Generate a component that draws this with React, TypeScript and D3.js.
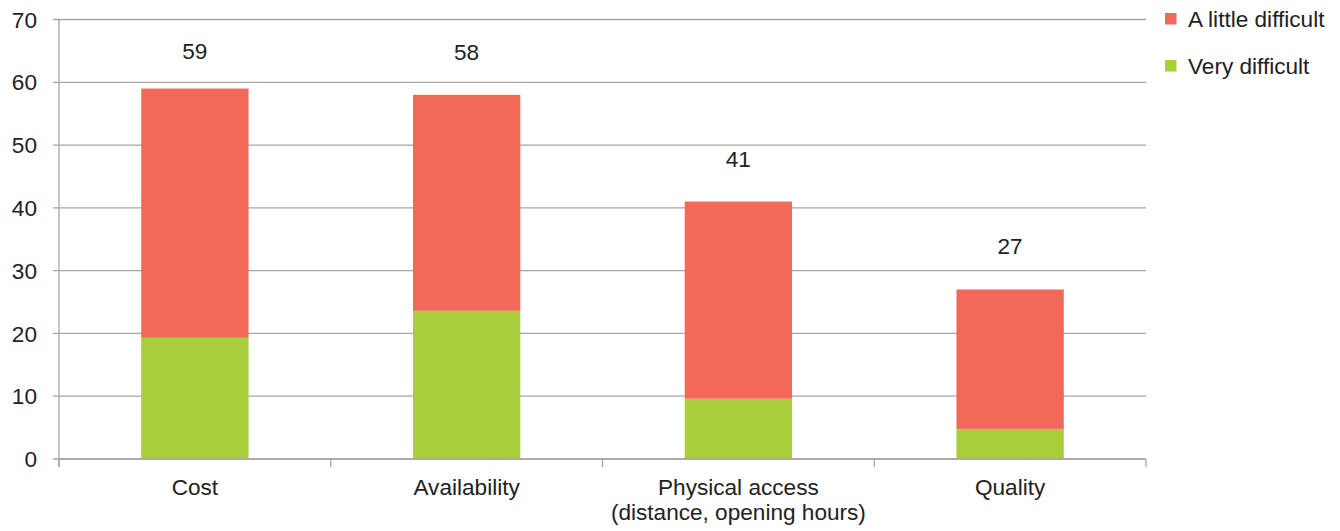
import React from "react";
import * as d3 from "d3";

const categories: string[][] = [
  ["Cost"],
  ["Availability"],
  ["Physical access", "(distance, opening hours)"],
  ["Quality"],
];
const veryDifficult = [19.3, 23.6, 9.6, 4.8];
const aLittleDifficult = [39.7, 34.4, 31.4, 22.2];
const totalLabels = [59, 58, 41, 27];
const yTicks = [0, 10, 20, 30, 40, 50, 60, 70];
const seriesNames = ["A little difficult", "Very difficult"];
const seriesColors = ["#F26859", "#A8CE3A"];

const W = 1340;
const H = 531;
const M = { left: 59, right: 1146, top: 19.5, bottom: 459 };
const FONT = "'Liberation Sans', Arial, Helvetica, sans-serif";
const GRID = "#a6a6a6";
const TEXT = "#222";
const FS = 22.6;

export default function App() {
  const x = d3
    .scaleBand<number>()
    .domain(d3.range(categories.length))
    .range([M.left, M.right])
    .padding(0);
  const y = d3.scaleLinear().domain([0, 70]).range([M.bottom, M.top]);
  const bw = x.bandwidth() * 0.395;

  const stacked = categories.map((_, i) => ({
    i,
    green: veryDifficult[i],
    red: aLittleDifficult[i],
  }));

  const boundaries = d3.range(categories.length + 1).map((i) => M.left + i * x.step());

  return (
    <svg
      width={W}
      height={H}
      style={{ position: "absolute", left: 0, top: 0, background: "#fff" }}
      fontFamily={FONT}
    >
      {yTicks.map((t) => (
        <g key={t}>
          <line x1={M.left - 6} x2={M.right} y1={y(t)} y2={y(t)} stroke={GRID} strokeWidth={1.3} />
          <text x={37} y={y(t)} dy="0.36em" textAnchor="end" fontSize={FS} fill={TEXT}>
            {t}
          </text>
        </g>
      ))}
      <line x1={M.left} x2={M.left} y1={M.top} y2={M.bottom + 8} stroke={GRID} strokeWidth={1.3} />
      {boundaries.map((bx, i) => (
        <line key={i} x1={bx} x2={bx} y1={M.bottom} y2={M.bottom + 8} stroke={GRID} strokeWidth={1.3} />
      ))}
      {stacked.map((d) => {
        const cx = (x(d.i) as number) + x.bandwidth() / 2;
        const total = d.green + d.red;
        return (
          <g key={d.i}>
            <rect
              x={cx - bw / 2}
              width={bw}
              y={y(d.green)}
              height={y(0) - y(d.green)}
              fill={seriesColors[1]}
            />
            <rect
              x={cx - bw / 2}
              width={bw}
              y={y(total)}
              height={y(d.green) - y(total)}
              fill={seriesColors[0]}
            />
            <text
              x={cx}
              y={Math.max(y(total) - 35, 59)}
              textAnchor="middle"
              fontSize={FS}
              fill={TEXT}
            >
              {totalLabels[d.i]}
            </text>
            <text x={cx} y={495} textAnchor="middle" fontSize={FS} fill={TEXT}>
              {categories[d.i].map((line, li) => (
                <tspan key={li} x={cx} dy={li === 0 ? 0 : 25}>
                  {line}
                </tspan>
              ))}
            </text>
          </g>
        );
      })}
      <line x1={M.left} x2={M.right} y1={M.bottom} y2={M.bottom} stroke={GRID} strokeWidth={1.3} />
      {seriesNames.map((name, i) => (
        <g key={name} transform={`translate(1165, ${13 + i * 47})`}>
          <rect width={11.5} height={11.5} fill={seriesColors[i]} />
          <text x={23} y={13.8} fontSize={FS} fill={TEXT}>
            {name}
          </text>
        </g>
      ))}
    </svg>
  );
}
